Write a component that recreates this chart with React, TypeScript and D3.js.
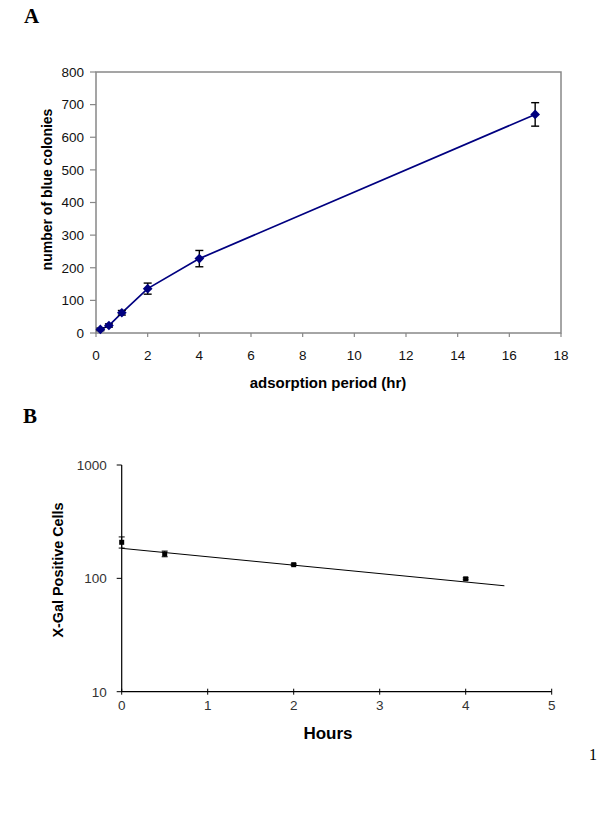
import React from "react";
import * as d3 from "d3";

// Panel A data
const aHours = [0.17, 0.5, 1, 2, 4, 17];
const aColonies = [11, 23, 62, 136, 228, 670];
const aErr = [4, 5, 7, 17, 25, 36];
const aYTicks = [0, 100, 200, 300, 400, 500, 600, 700, 800];
const aXTicks = [0, 2, 4, 6, 8, 10, 12, 14, 16, 18];

// Panel B data
const bHours = [0, 0.5, 2, 4];
const bCells = [208, 164, 132, 99];
const bErrHi = [232, 174, 134, 101];
const bErrLo = [185, 155, 130, 97];
const bFitX = [0, 4.45];
const bFitY = [184, 86];
const bYTicks = [10, 100, 1000];
const bXTicks = [0, 1, 2, 3, 4, 5];

const SANS = "'Liberation Sans', Arial, sans-serif";
const SERIF = "'Liberation Serif', 'Times New Roman', serif";

export default function App() {
  // Panel A scales
  const ax = d3.scaleLinear().domain([0, 18]).range([96, 561]);
  const ay = d3.scaleLinear().domain([0, 800]).range([333, 72]);
  const aLine = d3
    .line<number>()
    .x((_, i) => ax(aHours[i]))
    .y((d) => ay(d))
    .curve(d3.curveLinear);
  const diamond = d3.symbol().type(d3.symbolDiamond2).size(60)();

  // Panel B scales
  const bx = d3.scaleLinear().domain([0, 5]).range([121.7, 551.7]);
  const by = d3.scaleLog().domain([10, 1000]).range([691.7, 465]);
  const bLine = d3
    .line<number>()
    .x((_, i) => bx(bFitX[i]))
    .y((d) => by(d));

  return (
    <svg
      width={600}
      height={818}
      style={{ position: "absolute", left: 0, top: 0, background: "#fff" }}
    >
      <rect x={0} y={0} width={600} height={818} fill="#fff" />
      {/* Panel labels */}
      <text x={24} y={23} fontFamily={SERIF} fontWeight="bold" fontSize={21}>
        A
      </text>
      <text x={23} y={423} fontFamily={SERIF} fontWeight="bold" fontSize={21}>
        B
      </text>
      <text x={589} y={760} fontFamily={SERIF} fontSize={16}>
        1
      </text>

      {/* ===== Panel A ===== */}
      <g>
        <rect
          x={ax(0)}
          y={ay(800)}
          width={ax(18) - ax(0)}
          height={ay(0) - ay(800)}
          fill="none"
          stroke="#888"
          strokeWidth={1.5}
        />
        {aYTicks.map((t) => (
          <g key={"ay" + t}>
            <line x1={ax(0) - 6} x2={ax(0)} y1={ay(t)} y2={ay(t)} stroke="#888" strokeWidth={1.2} />
            <text
              x={ax(0) - 12}
              y={ay(t)}
              dy="0.36em"
              textAnchor="end"
              fontFamily={SANS}
              fontSize={13.5}
              fill="#111"
            >
              {t}
            </text>
          </g>
        ))}
        {aXTicks.map((t) => (
          <g key={"ax" + t}>
            <line x1={ax(t)} x2={ax(t)} y1={ay(0)} y2={ay(0) + 4} stroke="#888" strokeWidth={1.2} />
            <text
              x={ax(t)}
              y={ay(0) + 27}
              textAnchor="middle"
              fontFamily={SANS}
              fontSize={13.5}
              fill="#111"
            >
              {t}
            </text>
          </g>
        ))}
        <text
          transform={`translate(52, ${(ay(0) + ay(800)) / 2 - 13}) rotate(-90)`}
          textAnchor="middle"
          fontFamily={SANS}
          fontWeight="bold"
          fontSize={14}
          fill="#000"
        >
          number of blue colonies
        </text>
        <text
          x={328}
          y={388}
          textAnchor="middle"
          fontFamily={SANS}
          fontWeight="bold"
          fontSize={15}
          fill="#000"
        >
          adsorption period (hr)
        </text>
        <path d={aLine(aColonies) || ""} fill="none" stroke="#000080" strokeWidth={1.7} />
        {aColonies.map((v, i) => {
          const x = ax(aHours[i]);
          const y1 = ay(v + aErr[i]);
          const y2 = ay(v - aErr[i]);
          return (
            <g key={"ae" + i} stroke="#000" strokeWidth={1.4}>
              <line x1={x} x2={x} y1={y1} y2={y2} />
              <line x1={x - 4} x2={x + 4} y1={y1} y2={y1} />
              <line x1={x - 4} x2={x + 4} y1={y2} y2={y2} />
            </g>
          );
        })}
        {aColonies.map((v, i) => (
          <path
            key={"am" + i}
            d={diamond || ""}
            transform={`translate(${ax(aHours[i])}, ${ay(v)})`}
            fill="#000080"
          />
        ))}
      </g>

      {/* ===== Panel B ===== */}
      <g>
        <line x1={bx(0)} x2={bx(0)} y1={by(1000)} y2={by(10)} stroke="#000" strokeWidth={1.2} />
        <line x1={bx(0)} x2={bx(5)} y1={by(10)} y2={by(10)} stroke="#000" strokeWidth={1.2} />
        {bYTicks.map((t) => (
          <g key={"by" + t}>
            <line x1={bx(0) - 5} x2={bx(0)} y1={by(t)} y2={by(t)} stroke="#000" strokeWidth={1} />
            <text
              x={bx(0) - 15}
              y={by(t)}
              dy="0.36em"
              textAnchor="end"
              fontFamily={SANS}
              fontSize={13.5}
              fill="#333"
            >
              {t}
            </text>
          </g>
        ))}
        {bXTicks.map((t) => (
          <g key={"bx" + t}>
            <line x1={bx(t)} x2={bx(t)} y1={by(10) - 3} y2={by(10) + 3} stroke="#000" strokeWidth={1} />
            <text
              x={bx(t)}
              y={by(10) + 18}
              textAnchor="middle"
              fontFamily={SANS}
              fontSize={13.5}
              fill="#333"
            >
              {t}
            </text>
          </g>
        ))}
        <text
          transform={`translate(63, 570) rotate(-90)`}
          textAnchor="middle"
          fontFamily={SANS}
          fontWeight="bold"
          fontSize={14.5}
          fill="#000"
          textLength={135}
          lengthAdjust="spacingAndGlyphs"
        >
          X-Gal Positive Cells
        </text>
        <text
          x={328}
          y={739}
          textAnchor="middle"
          fontFamily={SANS}
          fontWeight="bold"
          fontSize={17}
          fill="#000"
        >
          Hours
        </text>
        <path d={bLine(bFitY) || ""} fill="none" stroke="#000" strokeWidth={1} />
        {bCells.map((v, i) => {
          const x = bx(bHours[i]);
          const y1 = by(bErrHi[i]);
          const y2 = by(bErrLo[i]);
          return (
            <g key={"be" + i} stroke="#000" strokeWidth={1}>
              <line x1={x} x2={x} y1={y1} y2={y2} />
              <line x1={x - 3} x2={x + 3} y1={y1} y2={y1} />
              <line x1={x - 3} x2={x + 3} y1={y2} y2={y2} />
            </g>
          );
        })}
        {bCells.map((v, i) => (
          <rect
            key={"bm" + i}
            x={bx(bHours[i]) - 2.5}
            y={by(v) - 2.5}
            width={5}
            height={5}
            fill="#000"
          />
        ))}
      </g>
    </svg>
  );
}
